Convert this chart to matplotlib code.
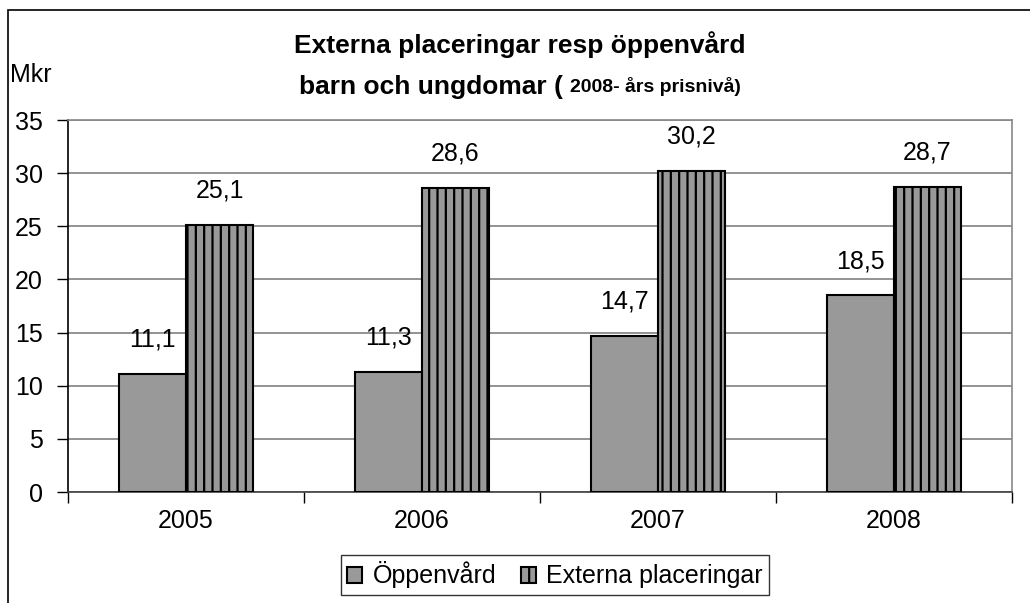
import matplotlib
matplotlib.use('Agg')

import matplotlib.pyplot as plt
import matplotlib.patches as patches
import numpy as np

years = ["2005", "2006", "2007", "2008"]
oppenvard = [11.1, 11.3, 14.7, 18.5]
externa = [25.1, 28.6, 30.2, 28.7]
yticks = [0, 5, 10, 15, 20, 25, 30, 35]

plt.rcParams['font.family'] = ['Liberation Sans', 'DejaVu Sans']
plt.rcParams['hatch.linewidth'] = 1.6
plt.rcParams['hatch.color'] = 'black'

fig = plt.figure(figsize=(10.30, 6.03), dpi=100)
ax = fig.add_axes([68/1030, 111/603, 944/1030, 372/603])

x = np.arange(len(years))
w = 0.284
ax.bar(x - w/2, oppenvard, w, color='#999999', edgecolor='black', linewidth=1.5,
       label='Öppenvård', zorder=3)
ax.bar(x + w/2, externa, w, color='#999999', edgecolor='black', linewidth=1.5,
       hatch='||', label='Externa placeringar', zorder=3)

def fmt(v):
    return f"{v:.1f}".replace('.', ',')

# value labels above the bars
for xi, v in zip(x, oppenvard):
    ax.text(xi - w/2, v + 2.1, fmt(v), ha='center', va='bottom', fontsize=18)
for xi, v in zip(x, externa):
    ax.text(xi + w/2, v + 2.1, fmt(v), ha='center', va='bottom', fontsize=18)

ax.set_xlim(-0.5, 3.5)
ax.set_ylim(0, 35)
ax.set_yticks(yticks)
ax.set_yticklabels([str(t) for t in yticks], fontsize=18)
ax.tick_params(axis='y', length=8, width=1, color='black', pad=10)
ax.yaxis.grid(True, color='#808080', linewidth=1.2, zorder=0)

ax.set_xticks(np.arange(-0.5, 4.0, 1.0))
ax.set_xticklabels([])
ax.tick_params(axis='x', which='major', length=8, width=1, color='black', direction='out')
ax.set_xticks(x, minor=True)
ax.set_xticklabels(years, minor=True, fontsize=18)
ax.tick_params(axis='x', which='minor', length=0, pad=12)

ax.spines['left'].set_color('black')
ax.spines['bottom'].set_color('#404040')
ax.spines['top'].set_color('#888888')
ax.spines['right'].set_color('#888888')
for s in ax.spines.values():
    s.set_linewidth(1.2)

fig.text(520/1030, 1 - 45/603, "Externa placeringar resp öppenvård",
         ha='center', va='center', fontsize=19, fontweight='bold')
t1 = fig.text(0, 1 - 87/603, "barn och ungdomar ( ", ha='left', va='center',
              fontsize=19, fontweight='bold')
t2 = fig.text(0, 1 - 87/603, "2008- års prisnivå)", ha='left', va='center',
              fontsize=14, fontweight='bold')
fig.canvas.draw()
r = fig.canvas.get_renderer()
w1 = t1.get_window_extent(r).width
w2 = t2.get_window_extent(r).width
start = 520 - (w1 + w2) / 2
t1.set_x(start / 1030)
t2.set_x((start + w1) / 1030)

fig.text(10/1030, 1 - 75/603, "Mkr", ha='left', va='center', fontsize=18)

leg = fig.legend(loc='center', bbox_to_anchor=(555/1030, 1 - 575/603),
                 ncol=2, fontsize=18, frameon=True, fancybox=False,
                 handlelength=0.6, handleheight=0.6, handletextpad=0.4,
                 columnspacing=1.0, borderpad=0.25, borderaxespad=0)
leg.get_frame().set_edgecolor('black')
leg.get_frame().set_linewidth(1.0)

border = patches.Rectangle((8/1030, -0.1), 1.2, (593/603) + 0.1,
                           transform=fig.transFigure, fill=False,
                           edgecolor='black', linewidth=1.2)
fig.patches.append(border)

plt.savefig("out.png", dpi=100)
